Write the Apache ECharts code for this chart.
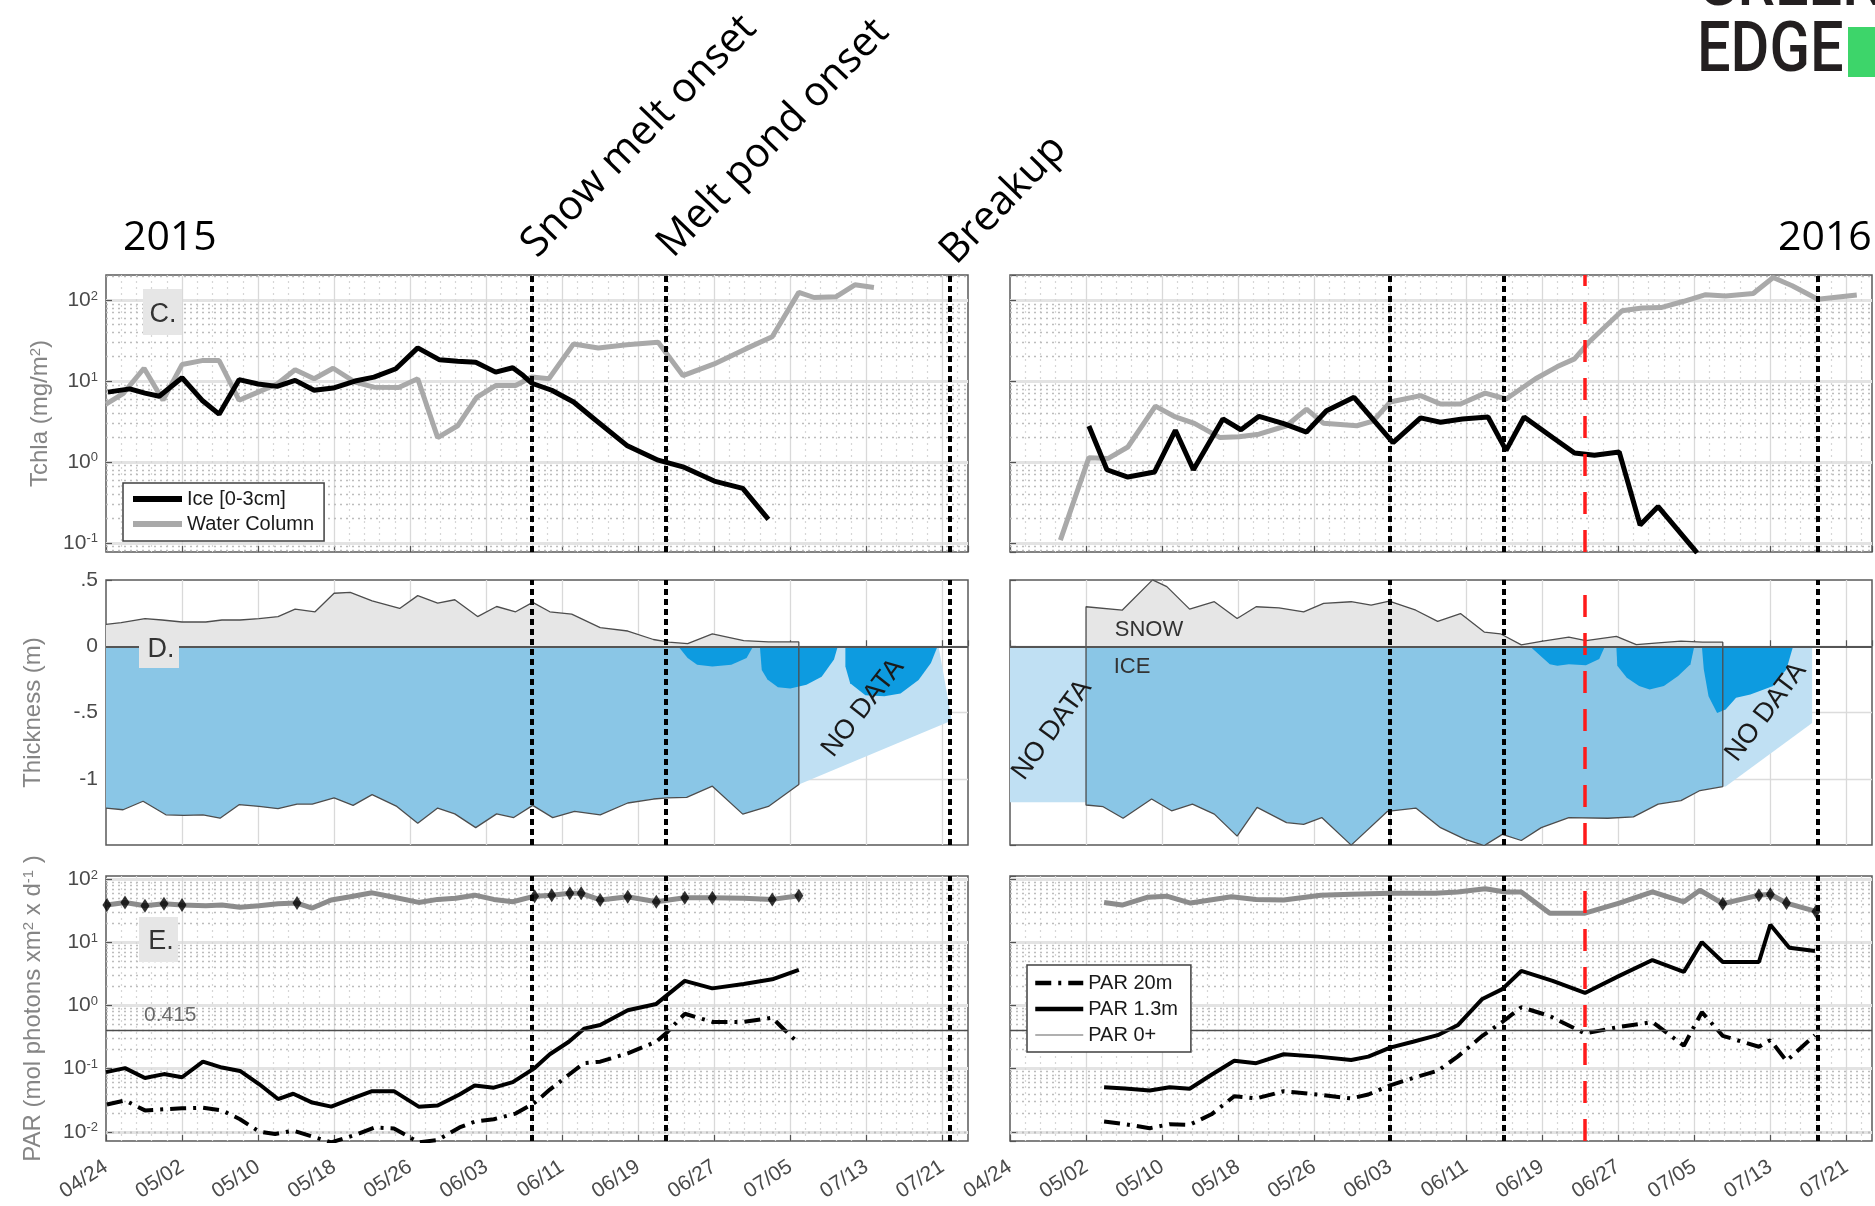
<!DOCTYPE html>
<html>
<head>
<meta charset="utf-8">
<title>Sea ice, snow and light time series 2015-2016</title>
<script src="https://cdn.jsdelivr.net/npm/echarts@6/dist/echarts.min.js"></script>
<style>
  html, body { margin: 0; padding: 0; background: #ffffff; }
  #chart { width: 1875px; height: 1206px; }
</style>
</head>
<body>
<div id="chart"></div>
<script>
// x values are days since 24 April; the axis is labelled every 8 days
const X_MAX = 90.7;
const tickLabels = ['04/24', '05/02', '05/10', '05/18', '05/26', '06/03', '06/11', '06/19', '06/27', '07/05', '07/13', '07/21'];

// event dates (days since 24 April)
const events2015 = [44.8, 58.9, 88.8];   // snow melt onset, melt pond onset, breakup
const events2016 = [40, 52, 85];
const redLine2016 = [60.5];

// ---- Tchla (mg/m2), 2015 ----
const iceDays2015 = [0.2, 2.5, 4.1, 5.6, 8.0, 10.1, 11.9, 14.0, 16.0, 18.0, 19.9, 21.9, 23.9, 26.2, 28.2, 30.5, 32.8, 35.1, 37.0, 38.9, 41.0, 42.8, 43.9, 44.8, 46.9, 49.2, 51.5, 54.8, 58.1, 60.7, 64.0, 67.0, 69.7];
const iceChl2015 = [7.3, 8.0, 7.1, 6.5, 11, 5.8, 3.9, 10.4, 9.2, 8.6, 10.2, 7.7, 8.2, 10, 11.2, 14.2, 25.7, 18.3, 17.6, 17.1, 12.9, 14.6, 11.7, 9.4, 7.7, 5.5, 3.3, 1.6, 1.05, 0.87, 0.58, 0.47, 0.195];
const wcDays2015 = [0, 1.8, 4.0, 6.0, 8.0, 10.1, 11.9, 14.0, 16.0, 18.0, 19.9, 21.9, 23.9, 26.2, 28.2, 30.8, 32.8, 34.9, 37.0, 39.0, 41.0, 43.1, 44.8, 46.6, 49.2, 51.8, 54.8, 58.1, 60.7, 64.0, 67.3, 70.1, 72.9, 74.5, 76.8, 78.8, 80.8];
const wcChl2015 = [5.2, 7.0, 14.4, 5.8, 16, 17.9, 17.9, 5.8, 7.3, 9.2, 13.8, 10.7, 14.4, 9.7, 8.4, 8.3, 10.7, 2.0, 2.8, 6.3, 8.8, 8.8, 11.2, 10.7, 28.8, 25.7, 28.2, 30.2, 11.7, 16.3, 25, 35.4, 125, 108, 110, 155, 144];

// ---- Tchla (mg/m2), 2016 ----
const iceDays2016 = [8.3, 10.2, 12.4, 15.2, 17.4, 19.3, 22.4, 24.3, 26.2, 28.8, 31.2, 33.3, 36.2, 40.3, 43.2, 45.3, 47.6, 50.3, 52.2, 54.1, 57.1, 59.4, 61.5, 64.1, 66.3, 68.2, 72.3];
const iceChl2016 = [2.78, 0.8, 0.65, 0.75, 2.46, 0.8, 3.4, 2.5, 3.66, 2.97, 2.34, 4.3, 6.3, 1.73, 3.5, 3.1, 3.39, 3.59, 1.39, 3.59, 2.0, 1.29, 1.21, 1.33, 0.166, 0.28, 0.075];
const wcDays2016 = [5.3, 8.3, 10.3, 12.4, 15.3, 17.4, 19.4, 22.1, 24.1, 26.2, 29.1, 31.2, 33.0, 36.5, 38.2, 40.0, 43.2, 45.3, 47.4, 50.0, 52.2, 55.3, 57.6, 59.4, 60.9, 64.4, 66.5, 68.5, 70.9, 73.2, 75.3, 78.2, 80.3, 82.3, 85.0, 89.1];
const wcChl2016 = [0.108, 1.13, 1.1, 1.53, 4.9, 3.6, 3.0, 2.0, 2.05, 2.2, 2.8, 4.5, 3.0, 2.8, 3.2, 5.5, 6.6, 5.2, 5.2, 7.1, 6.0, 10.7, 15.1, 18.8, 30.2, 74, 80, 81, 97, 117, 113, 121, 191, 151, 103, 116];

// ---- Snow and ice thickness (m), 2015 ----
const snowDays2015 = [0, 1.6, 4.1, 5.9, 8.0, 10.5, 12.2, 14.1, 16.1, 18.1, 19.9, 22.0, 24.0, 25.7, 28.0, 30.9, 32.8, 34.9, 36.7, 39.1, 41.1, 43.1, 44.9, 46.7, 49.0, 52.0, 54.9, 57.6, 59.2, 61.2, 63.8, 67.1, 69.7, 72.9, 72.9];
const snowDepth2015 = [0.165, 0.178, 0.209, 0.198, 0.183, 0.183, 0.198, 0.198, 0.209, 0.224, 0.28, 0.26, 0.40, 0.407, 0.343, 0.285, 0.382, 0.326, 0.351, 0.224, 0.30, 0.26, 0.331, 0.26, 0.242, 0.14, 0.115, 0.051, 0.031, 0.02, 0.094, 0.043, 0.033, 0.033, 0];
const iceThkDays2015 = [0, 1.8, 3.9, 6.3, 8.2, 10.2, 12.0, 14.0, 16.1, 18.1, 20.1, 21.7, 24.0, 26.0, 28.0, 30.6, 32.8, 34.9, 36.7, 38.9, 41.1, 42.9, 44.9, 47.0, 49.3, 52.0, 54.9, 57.6, 59.1, 61.1, 63.8, 67.0, 69.7, 72.9, 72.9];
const iceBottom2015 = [-1.221, -1.234, -1.17, -1.272, -1.277, -1.272, -1.298, -1.196, -1.209, -1.226, -1.191, -1.191, -1.145, -1.201, -1.12, -1.209, -1.336, -1.221, -1.265, -1.369, -1.265, -1.293, -1.201, -1.293, -1.247, -1.272, -1.183, -1.153, -1.145, -1.14, -1.056, -1.267, -1.209, -1.043, 0];
const noData2015 = [[[72.9, 0], [87.6, 0], [89.0, -0.56], [72.9, -1.043]]];
const ponds2015 = [
  [[60.2, 0], [61.2, -0.089], [62.2, -0.14], [63.8, -0.153], [65.8, -0.14], [67.4, -0.089], [68.1, 0]],
  [[68.8, 0], [69.0, -0.18], [69.6, -0.25], [70.7, -0.31], [72.0, -0.318], [73.7, -0.29], [75.3, -0.23], [76.6, -0.1], [77.0, 0]],
  [[77.8, 0], [77.8, -0.153], [78.3, -0.28], [79.9, -0.369], [81.9, -0.377], [83.6, -0.356], [85.5, -0.254], [86.8, -0.127], [87.5, 0]]
];

// ---- Snow and ice thickness (m), 2016 ----
const snowDays2016 = [8.0, 8.0, 11.8, 15.0, 16.5, 18.9, 21.5, 23.9, 25.9, 28.3, 30.9, 33.0, 35.9, 38.0, 39.9, 42.7, 45.0, 47.4, 49.9, 51.6, 53.8, 55.9, 58.8, 60.6, 63.8, 65.9, 68.2, 70.6, 72.9, 75.0, 75.0];
const snowDepth2016 = [0, 0.298, 0.272, 0.501, 0.45, 0.28, 0.336, 0.209, 0.298, 0.29, 0.26, 0.323, 0.336, 0.31, 0.341, 0.272, 0.188, 0.247, 0.107, 0.094, 0.01, 0.036, 0.069, 0.043, 0.074, 0.013, 0.025, 0.038, 0.031, 0.031, 0];
const iceThkDays2016 = [8.0, 8.0, 9.8, 11.9, 14.9, 17.0, 19.2, 21.5, 23.9, 26.0, 29.1, 30.9, 32.8, 35.9, 39.7, 42.7, 45.3, 47.9, 49.9, 51.8, 53.8, 55.9, 58.8, 62.9, 65.6, 68.2, 70.6, 72.6, 75.0, 75.0];
const iceBottom2016 = [0, -1.198, -1.211, -1.298, -1.153, -1.242, -1.191, -1.267, -1.433, -1.216, -1.331, -1.344, -1.293, -1.501, -1.247, -1.221, -1.369, -1.458, -1.504, -1.42, -1.466, -1.369, -1.293, -1.298, -1.288, -1.191, -1.165, -1.089, -1.059, 0];
const noData2016 = [
  [[0, 0], [8.0, 0], [8.0, -1.178], [0, -1.178]],
  [[75.0, 0], [84.4, 0], [84.4, -0.58], [75.3, -1.058], [75.0, -1.059]]
];
const ponds2016 = [
  [[54.7, 0], [55.6, -0.059], [56.8, -0.135], [57.6, -0.148], [58.8, -0.135], [60.6, -0.143], [62.0, -0.097], [62.6, 0]],
  [[63.8, 0], [63.9, -0.148], [64.9, -0.237], [66.2, -0.30], [67.3, -0.326], [68.8, -0.30], [70.3, -0.224], [71.6, -0.135], [72.0, 0]],
  [[72.8, 0], [73.0, -0.173], [73.5, -0.377], [74.4, -0.504], [75.3, -0.478], [76.4, -0.389], [77.9, -0.364], [80.3, -0.30], [81.7, -0.173], [82.4, 0]]
];

// ---- PAR (mol photons m-2 d-1), 2015 ----
const par0Days2015 = [0.1, 2.0, 4.1, 6.1, 8.0, 10.5, 12.2, 14.1, 16.1, 18.1, 20.1, 21.7, 23.7, 25.7, 28.0, 30.3, 32.9, 34.9, 36.8, 38.8, 40.8, 42.8, 45.1, 46.9, 48.8, 50.0, 52.0, 54.9, 57.9, 60.9, 63.8, 67.1, 70.1, 72.9];
const par0Vals2015 = [39, 43, 38, 41, 39, 38, 39, 36, 38, 41, 42, 35, 47, 53, 61, 52, 43, 48, 50, 56, 48, 44, 54, 56, 60, 60, 47, 53, 44, 51, 51, 50, 48, 55];
const par0Marked2015 = [0.1, 2.0, 4.1, 6.1, 8.0, 20.1, 45.1, 46.9, 48.8, 50.0, 52.0, 54.9, 57.9, 60.9, 63.8, 70.1, 72.9];
const par13Days2015 = [0, 2.0, 4.1, 6.1, 8.0, 10.2, 12.2, 14.1, 16.1, 18.1, 19.7, 21.7, 23.7, 26.0, 28.0, 30.3, 32.9, 34.9, 37.2, 38.8, 40.8, 42.8, 45.1, 46.7, 48.7, 50.3, 52.0, 54.9, 57.9, 60.9, 63.8, 67.1, 70.1, 72.9];
const par13Vals2015 = [0.088, 0.102, 0.071, 0.082, 0.073, 0.129, 0.104, 0.092, 0.057, 0.033, 0.040, 0.029, 0.025, 0.034, 0.044, 0.044, 0.025, 0.026, 0.039, 0.054, 0.050, 0.061, 0.102, 0.169, 0.267, 0.43, 0.49, 0.84, 1.06, 2.46, 1.87, 2.19, 2.6, 3.66];
const par20Days2015 = [0.1, 2.0, 4.1, 6.1, 8.0, 10.2, 12.2, 14.1, 16.1, 17.8, 19.7, 21.7, 23.7, 26.0, 28.3, 30.3, 32.9, 34.9, 37.2, 38.8, 40.8, 43.1, 45.1, 46.7, 48.7, 50.3, 52.0, 54.9, 57.9, 58.9, 60.9, 63.8, 67.1, 70.1, 71.4, 72.9];
const par20Vals2015 = [0.0271, 0.0313, 0.0218, 0.0227, 0.0235, 0.024, 0.0218, 0.0158, 0.0101, 0.0092, 0.0104, 0.0084, 0.0068, 0.0087, 0.0117, 0.0113, 0.0068, 0.0074, 0.0117, 0.0145, 0.0158, 0.0194, 0.0288, 0.0466, 0.080, 0.122, 0.129, 0.175, 0.267, 0.36, 0.74, 0.55, 0.55, 0.64, 0.41, 0.25];

// ---- PAR (mol photons m-2 d-1), 2016 ----
const par0Days2016 = [9.9, 11.8, 14.5, 16.5, 19.0, 23.3, 25.9, 28.8, 32.7, 35.9, 40.0, 44.7, 47.1, 50.0, 52.1, 53.8, 56.8, 60.5, 64.1, 67.6, 70.9, 72.6, 75.0, 78.8, 80.0, 81.7, 84.8];
const par0Vals2016 = [43, 39, 52, 54, 42, 53, 48, 47, 56, 58, 60, 60, 63, 71, 63, 63, 29, 29, 42, 63, 44, 67, 41, 56, 58, 42, 31];
const par0Marked2016 = [75.0, 78.8, 80.0, 81.7, 84.8];
const par13Days2016 = [9.9, 12.1, 14.7, 16.8, 18.9, 21.2, 23.6, 25.9, 28.8, 32.4, 35.9, 37.7, 40.0, 42.4, 45.0, 47.1, 49.7, 51.8, 53.8, 57.1, 60.5, 64.1, 67.6, 70.9, 72.8, 75.0, 78.8, 80.0, 82.0, 84.7];
const par13Vals2016 = [0.0507, 0.0483, 0.045, 0.0507, 0.048, 0.080, 0.133, 0.122, 0.169, 0.155, 0.137, 0.155, 0.215, 0.267, 0.339, 0.486, 1.27, 1.82, 3.53, 2.46, 1.58, 2.95, 5.26, 3.41, 10.1, 4.89, 4.89, 19.0, 8.2, 7.3];
const par20Days2016 = [9.9, 12.1, 14.7, 16.8, 18.9, 21.2, 23.6, 25.9, 28.8, 32.4, 35.9, 37.7, 40.0, 42.4, 45.0, 47.1, 49.7, 51.8, 53.8, 56.8, 60.5, 64.1, 67.6, 70.9, 72.8, 75.0, 78.8, 80.0, 81.7, 84.7];
const par20Vals2016 = [0.0145, 0.0132, 0.0114, 0.0132, 0.0129, 0.0189, 0.0366, 0.0337, 0.0439, 0.0389, 0.0337, 0.0389, 0.0545, 0.071, 0.0925, 0.155, 0.331, 0.548, 0.94, 0.68, 0.36, 0.458, 0.548, 0.231, 0.786, 0.331, 0.222, 0.283, 0.133, 0.339];

const parThreshold = 0.415;

// ------------------------------------------------------------------
const zip = (xs, ys) => xs.map((x, i) => [x, ys[i]]);
const pick = (days, vals, marked) => marked.map(d => [d, vals[days.indexOf(d)]]);

const FONT = 'Liberation Sans';
const labelColor = '#4a4a4a';
const nameColor = '#858585';

// grid boxes: rows C (chlorophyll), D (thickness), E (PAR); columns 2015 / 2016
const LEFT = [106, 1010];
const ROWS = [{ top: 275, height: 277 }, { top: 580, height: 265 }, { top: 876, height: 265 }];
const grids = [];
ROWS.forEach(r => LEFT.forEach(l => grids.push({
  left: l, top: r.top, width: 862, height: r.height,
  show: true, borderColor: '#5a5a5a', borderWidth: 1.5, backgroundColor: 'transparent'
})));

function xAxisFor(gi) {
  const isLog = gi !== 2 && gi !== 3;
  const withLabels = gi >= 4;
  return {
    type: 'value', gridIndex: gi, min: 0, max: X_MAX, interval: 8,
    axisLine: { show: false },
    axisTick: { show: true, inside: true, length: 6, lineStyle: { color: '#555', width: 1.2 } },
    axisLabel: withLabels ? {
      show: true, rotate: 33, margin: 24, fontSize: 21, color: labelColor, fontFamily: FONT,
      showMaxLabel: false,
      formatter: v => (Math.abs(v / 8 - Math.round(v / 8)) < 1e-6 ? (tickLabels[Math.round(v / 8)] || '') : '')
    } : { show: false },
    splitLine: { show: true, showMinLine: false, showMaxLine: false, lineStyle: { color: '#d9d9d9', width: 1.3 } },
    minorTick: { show: false, splitNumber: 5 },
    minorSplitLine: { show: isLog, lineStyle: { color: '#d6d6d6', type: [2, 4], width: 1.2 } }
  };
}

const supRich = { s: { fontSize: 13, lineHeight: 13, verticalAlign: 'top', color: labelColor, fontFamily: FONT } };
const logFormatter = v => '10{s|' + Math.round(Math.log10(v)) + '}';

function logY(gi, min, max, name, nameGap) {
  const left = gi % 2 === 0;
  return {
    type: 'log', logBase: 10, gridIndex: gi, min: min, max: max,
    name: left ? name : '', nameLocation: 'middle', nameGap: nameGap, nameRotate: 90,
    nameTextStyle: { fontSize: 24, color: nameColor, fontFamily: FONT,
      rich: { s: { fontSize: 15, lineHeight: 15, verticalAlign: 'top', color: nameColor, fontFamily: FONT } } },
    axisLine: { show: false },
    axisTick: { show: true, inside: true, length: 6, lineStyle: { color: '#555', width: 1.2 } },
    axisLabel: left ? { show: true, formatter: logFormatter, rich: supRich, showMinLabel: false, showMaxLabel: false,
      fontSize: 21, color: labelColor, fontFamily: FONT, margin: 8 } : { show: false },
    splitLine: { show: true, showMinLine: false, showMaxLine: false, lineStyle: { color: '#e3e3e3', width: 3 } }
  };
}

function thickY(gi) {
  const left = gi % 2 === 0;
  const lab = { '0.5': '.5', '0': '0', '-0.5': '-.5', '-1': '-1' };
  return {
    type: 'value', gridIndex: gi, min: -1.5, max: 0.5, interval: 0.5,
    name: left ? 'Thickness (m)' : '', nameLocation: 'middle', nameGap: 61, nameRotate: 90,
    nameTextStyle: { fontSize: 24, color: nameColor, fontFamily: FONT },
    axisLine: { show: false },
    axisTick: { show: true, inside: true, length: 6, lineStyle: { color: '#555', width: 1.2 } },
    axisLabel: left ? { show: true, showMinLabel: false, fontSize: 21, color: labelColor, fontFamily: FONT, margin: 8,
      formatter: v => lab[String(v)] || '' } : { show: false },
    splitLine: { show: true, showMinLine: false, showMaxLine: false, lineStyle: { color: '#dcdcdc', width: 1.3 } }
  };
}

// dotted minor grid lines at 2..9 x 10^n inside [lo, hi]
function minorLogValues(lo, hi) {
  const out = [];
  for (let e = Math.floor(Math.log10(lo)); e <= Math.ceil(Math.log10(hi)); e++) {
    for (let m = 2; m <= 9; m++) {
      const v = m * Math.pow(10, e);
      if (v > lo && v < hi) out.push(+v.toPrecision(3));
    }
  }
  return out;
}

function minorGridSeries(gi, lo, hi) {
  return {
    type: 'line', name: 'minor-grid-' + gi, xAxisIndex: gi, yAxisIndex: gi, data: [], silent: true, z: 1,
    markLine: {
      silent: true, z: 1, animation: false, symbol: ['none', 'none'], label: { show: false },
      lineStyle: { color: '#bdbdbd', type: [2, 4], width: 1.4 },
      data: minorLogValues(lo, hi).map(v => ({ yAxis: v }))
    }
  };
}

function eventSeries(gi, days, red, extra) {
  const data = days.map(d => ({ xAxis: d, lineStyle: { color: '#000', width: 4, type: [6, 4] } }));
  red.forEach(d => data.push({ xAxis: d, lineStyle: { color: '#ff1a1a', width: 3.5, type: [22, 16] } }));
  (extra || []).forEach(e => data.push(e));
  return {
    type: 'line', name: 'events-' + gi, xAxisIndex: gi, yAxisIndex: gi, data: [], silent: true, z: 6,
    markLine: { silent: true, z: 6, animation: false, symbol: ['none', 'none'], label: { show: false }, data: data }
  };
}

function polygonSeries(gi, polys, color, name) {
  return {
    type: 'custom', name: name, xAxisIndex: gi, yAxisIndex: gi, silent: true, z: 2,
    data: polys.map(p => p[0]),
    renderItem: (params, api) => ({
      type: 'polygon',
      shape: { points: polys[params.dataIndex].map(p => api.coord(p)) },
      style: { fill: color }
    })
  };
}

function areaSeries(gi, name, data, fill) {
  return {
    type: 'line', name: name, xAxisIndex: gi, yAxisIndex: gi, data: data, silent: true,
    symbol: 'none', showSymbol: false, z: 2,
    lineStyle: { color: '#4d4d4d', width: 1.3 },
    areaStyle: { color: fill, opacity: 1, origin: 0 }
  };
}

function lineSeries(gi, name, data, color, width, type, z) {
  return {
    type: 'line', name: name, xAxisIndex: gi, yAxisIndex: gi, data: data,
    symbol: 'none', showSymbol: false, z: z || 3, silent: true,
    lineStyle: { color: color, width: width, type: type || 'solid' },
    itemStyle: { color: color }
  };
}

const ICE_BLUE = '#8ac6e6', NODATA_BLUE = '#c0e0f3', POND_BLUE = '#0d9be0', SNOW_GRAY = '#e6e6e6';
const GRAY_WC = '#a9a9a9', GRAY_PAR0 = '#8c8c8c';
const DASH_DOT = [16, 7, 3, 7];
const thresholdLine = { yAxis: parThreshold, lineStyle: { color: '#4d4d4d', width: 1.3, type: 'solid' } };
const zeroLine = { yAxis: 0, lineStyle: { color: '#555', width: 2, type: 'solid' } };

const series = [
  // C 2015
  minorGridSeries(0, 0.0769, 205),
  lineSeries(0, 'Water Column', zip(wcDays2015, wcChl2015), GRAY_WC, 5),
  lineSeries(0, 'Ice [0-3cm]', zip(iceDays2015, iceChl2015), '#000', 5),
  eventSeries(0, events2015, []),
  // C 2016
  minorGridSeries(1, 0.0769, 205),
  lineSeries(1, 'Water Column', zip(wcDays2016, wcChl2016), GRAY_WC, 5),
  lineSeries(1, 'Ice [0-3cm]', zip(iceDays2016, iceChl2016), '#000', 5),
  eventSeries(1, events2016, redLine2016),
  // D 2015
  polygonSeries(2, noData2015, NODATA_BLUE, 'no-data-2015'),
  areaSeries(2, 'ice-2015', zip(iceThkDays2015, iceBottom2015), ICE_BLUE),
  polygonSeries(2, ponds2015, POND_BLUE, 'ponds-2015'),
  areaSeries(2, 'snow-2015', zip(snowDays2015, snowDepth2015), SNOW_GRAY),
  eventSeries(2, events2015, [], [zeroLine]),
  // D 2016
  polygonSeries(3, noData2016, NODATA_BLUE, 'no-data-2016'),
  areaSeries(3, 'ice-2016', zip(iceThkDays2016, iceBottom2016), ICE_BLUE),
  polygonSeries(3, ponds2016, POND_BLUE, 'ponds-2016'),
  areaSeries(3, 'snow-2016', zip(snowDays2016, snowDepth2016), SNOW_GRAY),
  eventSeries(3, events2016, redLine2016, [zeroLine]),
  // E 2015
  minorGridSeries(4, 0.00714, 112.7),
  lineSeries(4, 'PAR 0+', zip(par0Days2015, par0Vals2015), GRAY_PAR0, 5),
  lineSeries(4, 'PAR 1.3m', zip(par13Days2015, par13Vals2015), '#000', 4),
  lineSeries(4, 'PAR 20m', zip(par20Days2015, par20Vals2015), '#000', 4, DASH_DOT),
  { type: 'scatter', name: 'par0-marks-2015', xAxisIndex: 4, yAxisIndex: 4, silent: true, z: 4,
    symbol: 'diamond', symbolSize: [9, 14], itemStyle: { color: '#000' },
    data: pick(par0Days2015, par0Vals2015, par0Marked2015) },
  eventSeries(4, events2015, [], [thresholdLine]),
  // E 2016
  minorGridSeries(5, 0.00714, 112.7),
  lineSeries(5, 'PAR 0+', zip(par0Days2016, par0Vals2016), GRAY_PAR0, 5),
  lineSeries(5, 'PAR 1.3m', zip(par13Days2016, par13Vals2016), '#000', 4),
  lineSeries(5, 'PAR 20m', zip(par20Days2016, par20Vals2016), '#000', 4, DASH_DOT),
  { type: 'scatter', name: 'par0-marks-2016', xAxisIndex: 5, yAxisIndex: 5, silent: true, z: 4,
    symbol: 'diamond', symbolSize: [9, 14], itemStyle: { color: '#000' },
    data: pick(par0Days2016, par0Vals2016, par0Marked2016) },
  eventSeries(5, events2016, redLine2016, [thresholdLine])
];

const legendText = { fontSize: 20, color: '#1a1a1a', fontFamily: FONT };
const legends = [
  {
    orient: 'vertical', left: 123, top: 483, padding: [6, 10, 7, 7], itemGap: 5, z: 20,
    itemWidth: 49, itemHeight: 14, backgroundColor: '#fff', borderColor: '#404040', borderWidth: 1.5,
    selectedMode: false, textStyle: legendText, itemStyle: { opacity: 0 },
    data: [
      { name: 'Ice [0-3cm]', lineStyle: { width: 6, color: '#000', type: 'solid' } },
      { name: 'Water Column', lineStyle: { width: 6, color: GRAY_WC, type: 'solid' } }
    ]
  },
  {
    orient: 'vertical', left: 1027, top: 965, padding: [8, 13, 7, 6], itemGap: 6, z: 20,
    itemWidth: 48, itemHeight: 14, backgroundColor: '#fff', borderColor: '#404040', borderWidth: 1.5,
    selectedMode: false, textStyle: legendText, itemStyle: { opacity: 0 },
    data: [
      { name: 'PAR 20m', lineStyle: { width: 4.5, color: '#000', type: DASH_DOT } },
      { name: 'PAR 1.3m', lineStyle: { width: 4.5, color: '#000', type: 'solid' } },
      { name: 'PAR 0+', lineStyle: { width: 2, color: '#b0b0b0', type: 'solid' } }
    ]
  }
];

// free text: years, event captions, panel letters, region names, logo
function txt(x, y, text, size, opts) {
  opts = opts || {};
  return {
    type: 'text', x: x, y: y, rotation: opts.rotation || 0, z: 100, silent: true,
    scaleX: opts.scaleX || 1,
    style: {
      text: text, x: opts.dx || 0, y: opts.dy || 0,
      fontSize: size, fontFamily: opts.font || FONT, fontWeight: opts.weight || 'normal',
      fill: opts.color || '#000',
      textAlign: opts.align || 'left', align: opts.align || 'left',
      textVerticalAlign: 'middle', verticalAlign: 'middle'
    }
  };
}
function letterBox(x, y, w, h, letter, tx, ty) {
  return [
    { type: 'rect', z: 99, silent: true, shape: { x: x, y: y, width: w, height: h }, style: { fill: '#e6e6e6' } },
    txt(tx, ty, letter, 27, { color: '#333', align: 'center' })
  ];
}
const DEG = Math.PI / 180;
const graphics = [
  txt(123, 238, '2015', 41, { font: 'Open Sans' }),
  txt(1778, 238, '2016', 41, { font: 'Open Sans' }),
  txt(540, 262, 'Snow melt onset', 41, { font: 'Open Sans', rotation: 46 * DEG, dy: -16 }),
  txt(676, 262, 'Melt pond onset', 41, { font: 'Open Sans', rotation: 46 * DEG, dy: -16 }),
  txt(959, 269, 'Breakup', 41, { font: 'Open Sans', rotation: 46 * DEG, dy: -16 }),
  ...letterBox(143, 289, 39, 46, 'C.', 163, 315),
  ...letterBox(139, 632, 40, 36, 'D.', 161, 650),
  ...letterBox(139, 917, 39, 45, 'E.', 161, 942),
  txt(144, 1015, '0.415', 21, { color: '#6a6a6a' }),
  txt(1149, 630, 'SNOW', 22, { color: '#333', align: 'center' }),
  txt(1132, 667, 'ICE', 22, { color: '#333', align: 'center' }),
  txt(863, 708, 'NO DATA', 27, { color: '#1a1a1a', align: 'center', rotation: 52 * DEG }),
  txt(1052, 730, 'NO DATA', 27, { color: '#1a1a1a', align: 'center', rotation: 54 * DEG }),
  txt(1766, 712, 'NO DATA', 27, { color: '#1a1a1a', align: 'center', rotation: 53 * DEG }),
  // logo
  txt(1697, -13, 'GREEN', 70, { font: 'Roboto', weight: 500, color: '#231f20', scaleX: 0.85 }),
  txt(1697, 53, 'EDGE', 70, { font: 'Roboto', weight: 500, color: '#231f20', scaleX: 0.85 }),
  { type: 'rect', z: 100, silent: true, shape: { x: 1848, y: 27, width: 30, height: 50 }, style: { fill: '#3dd56a' } }
];

const option = {
  animation: false,
  backgroundColor: '#ffffff',
  grid: grids,
  xAxis: [0, 1, 2, 3, 4, 5].map(xAxisFor),
  yAxis: [
    logY(0, 0.0769, 205, 'Tchla (mg/m{s|2})', 54),
    logY(1, 0.0769, 205, '', 54),
    thickY(2),
    thickY(3),
    logY(4, 0.00714, 112.7, 'PAR (mol photons xm{s|2} x d{s|-1} )', 61),
    logY(5, 0.00714, 112.7, '', 61)
  ],
  legend: legends,
  series: series,
  graphic: { elements: graphics }
};

const chart = echarts.init(document.getElementById('chart'), null, { renderer: 'canvas', width: 1875, height: 1206 });
chart.setOption(option);
</script>
</body>
</html>
